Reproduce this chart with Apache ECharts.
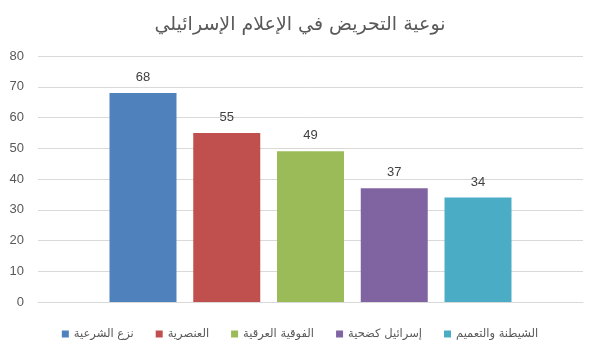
<!DOCTYPE html>
<html>
<head>
<meta charset="utf-8">
<script src="https://cdn.jsdelivr.net/npm/echarts@6/dist/echarts.min.js"></script>
<style>html,body{margin:0;padding:0;background:#fff}#c{width:600px;height:357px}</style>
</head>
<body>
<div id="c"></div>
<script>
const titleText = 'نوعية التحريض في الإعلام الإسرائيلي';
const categories = [''];
const seriesNames = ['نزع الشرعية', 'العنصرية', 'الفوقية العرقية', 'إسرائيل كضحية', 'الشيطنة والتعميم'];
const values = [68, 55, 49, 37, 34];
const colors = ['#4F81BD', '#C0504D', '#9BBB59', '#8064A2', '#4BACC6'];
const yTicks = { min: 0, max: 80, interval: 10 };

const chart = echarts.init(document.getElementById('c'), null, { renderer: 'canvas' });
const font = "'DejaVu Sans', Arial, sans-serif";
chart.setOption({
  animation: false,
  backgroundColor: '#fff',
  title: {
    text: titleText, left: 'center', top: 11,
    textStyle: { fontFamily: font, fontSize: 19, fontWeight: 'normal', color: '#595959' }
  },
  legend: {
    bottom: 12, left: 'center', itemWidth: 7, itemHeight: 7, itemGap: 22,
    icon: 'rect',
    textStyle: { fontFamily: font, fontSize: 11.5, color: '#595959' },
    data: seriesNames
  },
  grid: { left: 38, right: 17, top: 56, bottom: 55 },
  xAxis: {
    type: 'category', data: categories,
    axisLine: { lineStyle: { color: '#d9d9d9' } },
    axisTick: { show: false }, axisLabel: { show: false }
  },
  yAxis: {
    type: 'value', min: yTicks.min, max: yTicks.max, interval: yTicks.interval,
    axisLine: { show: false }, axisTick: { show: false },
    axisLabel: { fontFamily: 'Liberation Sans, Arial, sans-serif', fontSize: 13, color: '#595959', margin: 14 },
    splitLine: { lineStyle: { color: '#d9d9d9' } }
  },
  series: seriesNames.map((n, i) => ({
    name: n, type: 'bar', data: [values[i]],
    barWidth: 67, barGap: '25%',
    itemStyle: { color: colors[i] },
    label: { show: true, position: 'top', distance: 9, fontFamily: 'Liberation Sans, Arial, sans-serif', fontSize: 13, color: '#404040' }
  }))
});
</script>
</body>
</html>
